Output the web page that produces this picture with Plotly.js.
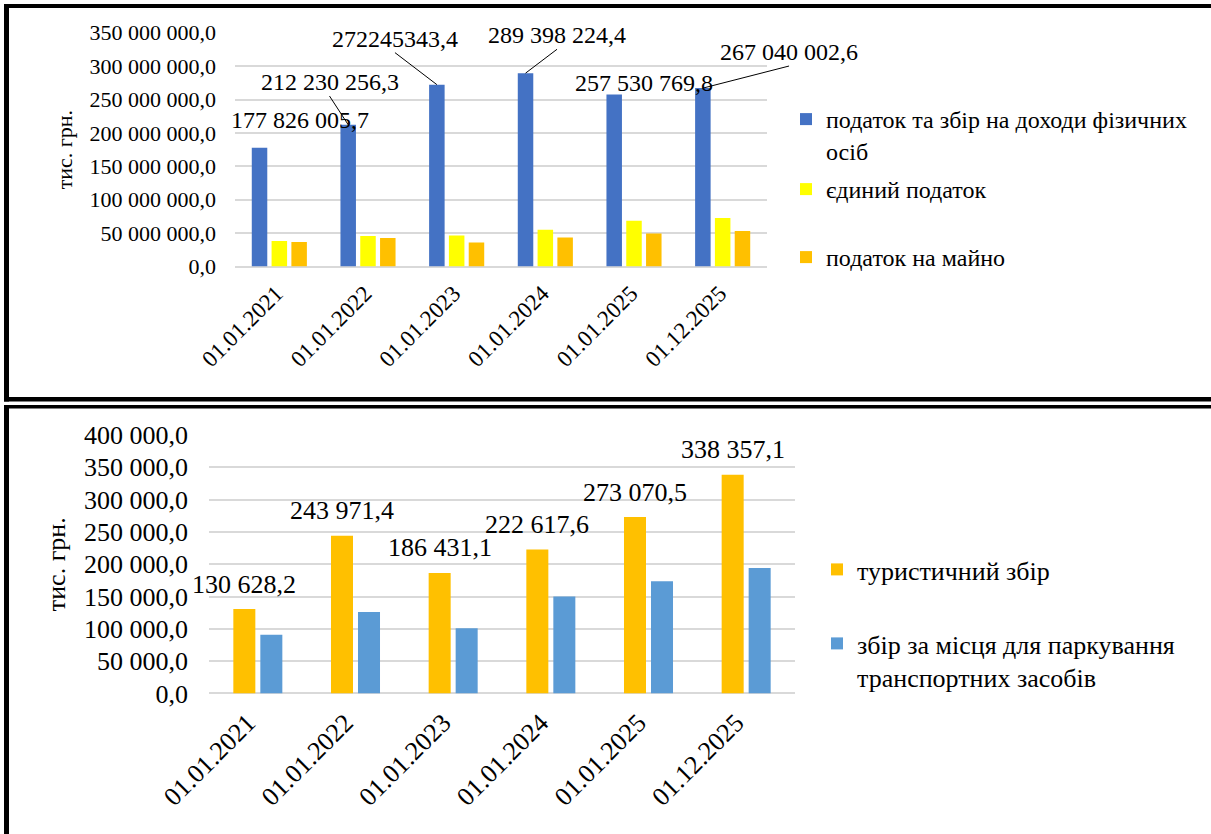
<!DOCTYPE html>
<html><head><meta charset="utf-8">
<script src="https://cdn.plot.ly/plotly-3.0.1.min.js"></script>
<style>
html,body{margin:0;padding:0;background:#fff;width:1211px;height:834px;overflow:hidden}
#top{position:absolute;left:0;top:0;width:1211px;height:403px}
#bottom{position:absolute;left:0;top:403px;width:1211px;height:431px}
</style></head><body>
<div id="top"></div><div id="bottom"></div>
<script>
// ---------- data ----------
const dates = ['01.01.2021','01.01.2022','01.01.2023','01.01.2024','01.01.2025','01.12.2025'];
const pdfo = [177826005.7, 212230256.3, 272245343.4, 289398224.4, 257530769.8, 267040002.6];
const yedynyi = [38.0e6, 45.5e6, 46.5e6, 55.0e6, 68.5e6, 72.5e6];
const maino = [36.5e6, 42.5e6, 36.0e6, 43.5e6, 49.5e6, 53.0e6];
const turyst = [130628.2, 243971.4, 186431.1, 222617.6, 273070.5, 338357.1];
const parking = [90.6e3, 125.9e3, 101.0e3, 150.0e3, 173.5e3, 194.0e3];
const pdfoGrouped = [true, true, false, true, true, true];

const nameTop = ['податок та збір на доходи фізичних<br>осіб', 'єдиний податок', 'податок на майно'];
const nameBot = ['туристичний збір', 'збір за місця для паркування<br>транспортних засобів'];
const yTitle = 'тис. грн.';

// ---------- helpers ----------
function fmt(v, group){
  const s = v.toFixed(1).split('.');
  let ip = s[0];
  if(group) ip = ip.replace(/\B(?=(\d{3})+(?!\d))/g, ' ');
  return ip + ',' + s[1];
}
const FONT = 'Liberation Serif, Times New Roman, serif';
const W = 1211, HT = 403, HB = 431, OB = 403;
const fx = px => px / W;
const fyT = py => 1 - py / HT;
const fyB = py => 1 - (py - OB) / HB;
const BLUE = '#4472C4', YEL = '#FFFF00', ORA = '#FFC000', LBLUE = '#5B9BD5', GRID = '#D9D9D9';
function rect(x0, x1, y0, y1){
  return {type:'rect', xref:'paper', yref:'paper', x0:x0, x1:x1, y0:y0, y1:y1,
          fillcolor:'#000', line:{width:0}, layer:'above'};
}
const catRange = [-0.5, dates.length - 0.5];

// ---------- top chart ----------
const bargapT = 0.33, slotT = (1 - bargapT) / 3;
const topTraces = [
  {type:'bar', x:dates, y:pdfo, name:nameTop[0], marker:{color:BLUE}, legend:'legend'},
  {type:'bar', x:dates, y:yedynyi, name:nameTop[1], marker:{color:YEL}, legend:'legend2'},
  {type:'bar', x:dates, y:maino, name:nameTop[2], marker:{color:ORA}, legend:'legend3'}
];
// label placement (pixel offsets from the top of each blue bar)
const pdfoPlace = [
  {arrow:false, dx:40, dy:-27.7},
  {arrow:true, ax:-18.7, ay:-28.7},
  {arrow:true, ax:-41.9, ay:-32},
  {arrow:true, ax:31.5, ay:-23.9},
  {arrow:false, dx:29.8, dy:-11.5},
  {arrow:true, ax:86.2, ay:-22.1}
];
const topAnn = pdfo.map((v, i) => {
  const p = pdfoPlace[i];
  const base = {x:i - slotT, y:v, xref:'x', yref:'y', text:fmt(v, pdfoGrouped[i]),
                font:{family:FONT, size:24, color:'#000'}};
  if(p.arrow){
    return Object.assign(base, {showarrow:true, arrowhead:0, arrowwidth:1, arrowcolor:'#000',
      ax:p.ax, ay:p.ay, xanchor:'center', yanchor:'bottom', standoff:0, borderpad:0});
  }
  return Object.assign(base, {showarrow:false, xshift:p.dx, yshift:-p.dy, xanchor:'center', yanchor:'middle'});
});
const legBase = {xanchor:'left', yanchor:'top', bgcolor:'rgba(0,0,0,0)', borderwidth:0,
                 valign:'top', font:{family:FONT, size:24, color:'#000'}};
const topLayout = {
  width:W, height:HT, margin:{l:0, r:0, t:0, b:0},
  paper_bgcolor:'#fff', plot_bgcolor:'#fff', separators:', ',
  font:{family:FONT, color:'#000'},
  barmode:'group', bargap:bargapT, bargroupgap:0.217,
  xaxis:{domain:[fx(235), fx(767)], type:'category', range:catRange, autorange:false,
         tickangle:-45, ticks:'',
         tickfont:{family:FONT, size:23, color:'#000'}, ticklabelstandoff:8, ticklabelshift:-3,
         showgrid:false, zeroline:false, showline:false, automargin:false, fixedrange:true},
  yaxis:{domain:[fyT(266.5), fyT(32.7)], range:[0, 350e6], autorange:false, dtick:50e6, tickformat:',.1f',
         ticks:'', tickfont:{family:FONT, size:22, color:'#000'}, ticklabelstandoff:18,
         gridcolor:GRID, gridwidth:2, zeroline:true, zerolinecolor:GRID, zerolinewidth:2,
         showline:false, automargin:false, fixedrange:true,
         title:{text:yTitle, font:{family:FONT, size:22, color:'#000'}, standoff:10}},
  showlegend:true,
  legend:Object.assign({}, legBase, {x:fx(786), y:fyT(97)}),
  legend2:Object.assign({}, legBase, {x:fx(786), y:fyT(167)}),
  legend3:Object.assign({}, legBase, {x:fx(786), y:fyT(235)}),
  annotations:topAnn,
  shapes:[
    rect(fx(4), 1, fyT(8), fyT(4)),
    rect(fx(4), fx(9), fyT(401.5), fyT(4)),
    rect(fx(4), 1, fyT(401.5), fyT(397))
  ]
};

// ---------- bottom chart ----------
const bargapB = 0.447, slotB = (1 - bargapB) / 2;
const botTraces = [
  {type:'bar', x:dates, y:turyst, name:nameBot[0], marker:{color:ORA}, legend:'legend'},
  {type:'bar', x:dates, y:parking, name:nameBot[1], marker:{color:LBLUE}, legend:'legend2'}
];
const botAnn = turyst.map((v, i) => ({
  x:i - slotB / 2, y:v, xref:'x', yref:'y', text:fmt(v, true), showarrow:false,
  xanchor:'center', yanchor:'middle', yshift:25,
  font:{family:FONT, size:26, color:'#000'}
}));
const legBaseB = Object.assign({}, legBase, {font:{family:FONT, size:26, color:'#000'}});
const botLayout = {
  width:W, height:HB, margin:{l:0, r:0, t:0, b:0},
  paper_bgcolor:'#fff', plot_bgcolor:'#fff', separators:', ',
  font:{family:FONT, color:'#000'},
  barmode:'group', bargap:bargapB, bargroupgap:0.185,
  xaxis:{domain:[fx(209), fx(795)], type:'category', range:catRange, autorange:false,
         tickangle:-45, ticks:'',
         tickfont:{family:FONT, size:26, color:'#000'}, ticklabelstandoff:8, ticklabelshift:-10,
         showgrid:false, zeroline:false, showline:false, automargin:false, fixedrange:true},
  yaxis:{domain:[fyB(693.4), fyB(435)], range:[0, 400000], autorange:false, dtick:50000, tickformat:',.1f',
         ticks:'', tickfont:{family:FONT, size:26, color:'#000'}, ticklabelstandoff:20,
         gridcolor:GRID, gridwidth:2, zeroline:true, zerolinecolor:GRID, zerolinewidth:2,
         showline:false, automargin:false, fixedrange:true,
         title:{text:yTitle, font:{family:FONT, size:26, color:'#000'}, standoff:10}},
  showlegend:true,
  legend:Object.assign({}, legBaseB, {x:fx(817), y:fyB(546)}),
  legend2:Object.assign({}, legBaseB, {x:fx(817), y:fyB(620)}),
  annotations:botAnn,
  shapes:[
    rect(fx(4), 1, fyB(408.5), fyB(405)),
    rect(fx(4), fx(9), 0, fyB(405))
  ]
};

const cfg = {displayModeBar:false, staticPlot:true};
Plotly.newPlot('top', topTraces, topLayout, cfg);
Plotly.newPlot('bottom', botTraces, botLayout, cfg);
</script>
</body></html>
